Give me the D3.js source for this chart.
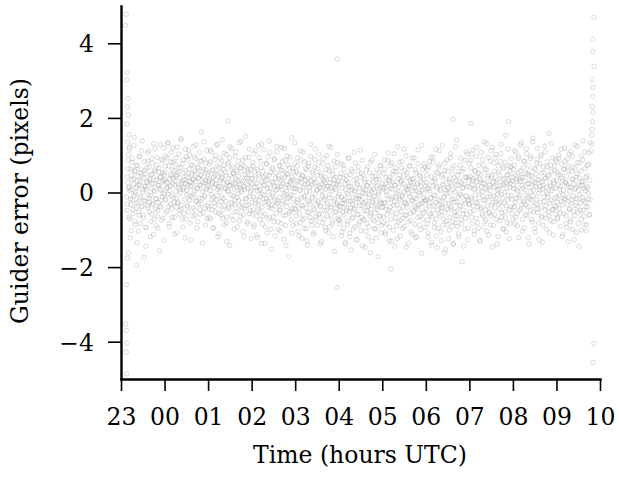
<!DOCTYPE html>
<html>
<head>
<meta charset="utf-8">
<script src="https://cdn.jsdelivr.net/npm/d3@7"></script>
<style>
body { margin: 0; background: #fff; }
svg text { font-family: "DejaVu Serif", serif; fill: #000; }
</style>
</head>
<body>
<svg id="chart" width="619" height="481"></svg>
<script>
// hours since 23:00 UTC -> labels
var tickHours = [0, 1, 2, 3, 4, 5, 6, 7, 8, 9, 10, 11];
var tickLabels = ["23", "00", "01", "02", "03", "04", "05", "06", "07", "08", "09", "10"];
var yTicks = [-4, -2, 0, 2, 4];

// guider error (pixels), read hour by hour from the picture (two guide-star passes per hour)
var err23 = [0.42, -0.31, 0.87, 0.12, -0.66, 1.21, 0.05, -0.18, 0.63, -1.02, 0.34, 0.91, -0.45, 0.22, -0.09, 1.48, -0.77, 0.56, 0.01, -0.29, 0.73, -1.35, 0.18, 0.44, -0.52, 0.97, -0.14, 0.29, -0.83, 0.61, 1.12, -0.37, 0.08, -0.61, 0.39, -1.74, 0.83, -0.22, 0.15, 0.51, -0.95, 0.26, 1.05, -0.41, -0.06, 0.68, -0.25, 0.33, -1.18, 0.47, 0.11, -0.58, 0.79, -0.33, 0.24, 1.31, -0.71, 0.02, 0.57, -0.16, -0.89, 0.36, 0.94, -0.48, 0.19, -0.27, 0.65, -1.56, 0.41, 0.07, -0.39, 0.88, -0.12, 0.53, -0.69, 0.31, 1.19, -0.04];
var err23b = [-0.12, -0.48, 0.27, 0.64, 1.02, 0.15, -0.71, -1.21, -0.33, 0.08, 0.46, 0.81, -0.19, -0.57, 0.37, 1.26, 0.59, -0.04, -0.86, -0.42, 0.13, 0.72, 0.31, -0.26, -1.04, -0.61, 0.21, 0.96, 0.53, -0.11, -0.39, 0.44, 1.38, 0.02, -0.68, -0.23, 0.58, 0.17, -0.93, -1.44, 0.09, 0.67, 0.29, -0.35, 0.84, 1.11, -0.16, -0.52, 0.38, -0.08, -0.78, 0.24, 0.92, 0.49, -0.29, -1.13, 0.05, 0.61, 1.17, -0.44, -0.17, 0.33, 0.74, -0.63, -0.96, 0.19, 0.55, 0.11, -0.37, 1.29, 0.42, -0.21, -0.74, 0.28, 0.86, -0.02, -1.28, 0.47];
var err00 = [0.55, -0.21, 0.98, 0.27, -0.49, 0.12, 1.34, -0.05, 0.71, -0.83, 0.36, 0.18, -0.32, 1.07, 0.44, -0.67, 0.23, 0.81, -0.14, 0.59, -1.11, 0.31, 0.02, 0.93, -0.39, 0.48, 1.22, -0.26, 0.14, 0.66, -0.58, 0.39, -0.01, 1.45, -0.44, 0.25, 0.77, -0.93, 0.09, 0.52, 0.34, -0.19, 1.16, -0.71, 0.43, 0.06, -0.35, 0.87, 0.21, -0.52, 0.62, 1.01, -0.09, 0.28, -1.27, 0.46, 0.17, 0.73, -0.41, 0.35, -0.04, 0.95, -0.62, 0.29, 1.28, -0.23, 0.51, 0.11, -0.78, 0.67, 0.38, -0.15, 0.84, -0.46, 0.19, 1.63, -0.31, 0.57, 0.03, -0.55, 0.42, 0.89, -0.12, 0.26, -0.87, 0.61, 0.08, 1.13, -0.36, 0.47];
var err00b = [0.34, 0.71, -0.18, -0.54, 0.12, 0.93, 1.31, 0.26, -0.37, -0.91, 0.05, 0.48, 0.82, -0.09, -0.43, 0.61, 1.19, 0.38, -0.27, -0.66, 0.19, 0.76, 0.44, -0.15, -1.08, -0.29, 0.53, 1.03, 0.22, -0.48, 0.07, 0.67, 1.41, -0.34, -0.71, 0.31, 0.88, 0.13, -0.56, -1.22, 0.24, 0.59, 0.96, -0.06, -0.39, 0.41, 1.14, 0.29, -0.21, -0.82, 0.16, 0.74, 0.51, -0.12, -0.63, 0.36, 1.24, 0.03, -0.47, 0.57, 0.91, -0.24, -0.95, 0.11, 0.68, 0.39, -0.31, 1.07, 0.21, -0.58, 0.46, 0.84, -0.16, -1.35, 0.27, 0.63, 1.36, -0.08, -0.42, 0.32, 0.79, 0.14, -0.69, 0.52];
var err01 = [0.31, -0.44, 0.76, 0.05, -0.71, 1.09, 0.22, -0.17, 0.58, -0.96, 0.41, 0.13, -0.28, 0.88, -0.53, 0.34, 1.27, -0.08, 0.49, -1.19, 0.17, 0.67, -0.34, 0.02, 0.92, -0.61, 0.38, -0.12, 1.41, -0.47, 0.26, 0.73, -0.86, 0.11, 0.55, -0.23, 1.02, -0.66, 0.29, 0.04, -0.39, 0.81, 0.19, -1.42, 0.46, -0.07, 0.63, 1.18, -0.31, 0.24, -0.74, 0.52, 0.09, -0.19, 0.97, -0.51, 0.36, 0.14, -0.92, 0.71, -0.03, 0.43, 1.33, -0.37, 0.21, -0.64, 0.57, 0.07, -0.26, 0.86, -1.05, 0.32, 0.16, -0.43, 0.69, 1.51, -0.15, 0.39, -0.79, 0.12, 0.61, -0.33, 0.94, -0.57, 0.27, 0.01, -1.23, 0.48];
var err01b = [0.18, -0.29, -0.67, 0.36, 0.82, 1.14, -0.05, -0.46, 0.27, 0.61, -0.13, -0.94, -0.38, 0.47, 0.99, 0.22, -0.21, 0.71, 1.29, 0.08, -0.56, -1.11, 0.15, 0.53, 0.33, -0.24, 0.86, 0.41, -0.69, -0.17, 0.62, 1.06, -0.36, 0.11, 0.44, -0.81, -1.31, 0.26, 0.77, 0.04, -0.43, 0.93, 1.22, 0.19, -0.27, -0.62, 0.39, 0.68, -0.09, 0.51, -0.98, -0.33, 0.24, 1.09, 0.57, -0.14, -0.52, 0.31, 0.84, -0.22, -0.76, 0.13, 0.66, 1.37, 0.01, -0.41, 0.28, 0.72, -0.59, -1.19, 0.09, 0.48, 0.94, -0.18, -0.35, 0.55, 0.21, -0.84, 0.37, 1.16, -0.11, -0.49, 0.63, 0.06];
var err02 = [0.23, -0.58, 0.71, -0.12, 1.04, -0.87, 0.36, -0.31, 0.15, -1.14, 0.62, 0.04, -0.49, 1.26, -0.21, 0.43, -0.73, 0.09, 0.84, -1.37, 0.28, -0.05, 0.57, -0.64, 1.15, -0.26, 0.19, -0.93, 0.47, -0.16, 0.76, -1.08, 0.33, 0.02, -0.41, 1.38, -0.67, 0.12, 0.54, -0.35, -1.52, 0.67, -0.09, 0.25, -0.78, 0.91, -0.22, 0.38, 0.06, -0.55, 1.09, -0.29, 0.17, -0.99, 0.45, -0.13, 0.72, -0.46, 0.31, 1.21, -0.83, 0.08, -0.24, 0.59, -1.26, 0.39, -0.03, 0.86, -0.61, 0.21, -0.38, 0.98, -0.15, 0.49, -1.71, 0.13, 0.66, -0.51, 0.27, -0.07, 1.47, -0.44, 0.34, -0.89, 0.55, 0.01, -0.32, 0.79];
var err02b = [-0.27, 0.38, 0.81, -0.46, -0.92, 0.14, 0.57, 1.12, -0.18, -0.63, 0.25, -1.21, -0.34, 0.49, 0.93, 0.06, -0.52, -0.11, 0.67, 1.29, -0.39, -0.84, 0.21, 0.42, -0.07, -1.36, -0.58, 0.33, 0.78, -0.24, 0.11, 0.96, -0.71, -0.29, 0.46, 1.07, -0.14, -0.99, -0.43, 0.29, 0.63, -0.02, -0.66, 0.87, 0.18, -1.17, -0.36, 0.52, 1.24, -0.21, 0.09, -0.79, 0.37, 0.71, -0.48, -1.03, 0.16, 0.59, -0.31, 0.83, 0.24, -0.61, -0.09, 1.18, 0.44, -0.88, -1.42, 0.03, 0.51, -0.26, 0.74, 0.19, -0.55, -0.12, 0.95, 0.31, -0.73, -1.09, 0.41, 0.65, -0.17, 0.12, -0.44, 1.33];
var err03 = [0.18, -0.62, 0.55, -0.27, 0.93, -1.04, 0.29, -0.43, 0.07, -0.81, 1.12, -0.15, 0.38, -1.23, 0.46, -0.36, 0.14, -0.69, 0.82, -0.09, 0.33, -0.97, 0.61, -0.22, -1.41, 0.24, 0.71, -0.54, 0.03, -0.31, 1.29, -0.76, 0.19, -0.12, 0.52, -1.13, 0.37, -0.47, 0.88, -0.04, -0.65, 0.27, 0.06, -0.88, 0.64, -0.26, 1.03, -0.57, 0.13, -0.38, 0.45, -1.32, 0.22, -0.08, 0.76, -0.71, 0.31, -0.19, -0.93, 0.41, 0.09, -0.48, 0.99, -0.33, 0.17, -1.07, 0.58, -0.14, 0.26, -0.62, 1.21, -0.41, 0.04, -0.84, 0.49, -0.24, 0.35, -1.58, 0.12, 0.69, -0.52, 0.23, -0.29, 0.81, -0.11, -0.73];
var err03b = [0.11, -0.46, -0.83, 0.32, 0.71, -0.19, 0.49, -1.16, -0.58, 0.05, 0.86, 0.27, -0.34, -0.72, 0.43, 1.08, -0.12, -0.96, 0.21, 0.64, -0.41, 0.02, -1.29, -0.53, 0.38, 0.79, -0.25, 0.14, -0.67, 0.96, 0.33, -0.88, -0.16, 0.57, -0.44, -1.07, 0.24, 0.68, 1.17, -0.31, -0.74, 0.09, 0.46, -0.21, -0.59, 0.81, 0.18, -1.38, -0.36, 0.52, 0.04, -0.81, 0.37, 0.91, -0.13, -0.49, 0.26, -1.02, 0.61, 0.15, -0.28, -0.64, 0.72, 1.24, -0.07, -0.91, 0.35, -0.39, 0.12, 0.58, -0.76, -1.19, 0.23, 0.84, -0.18, -0.52, 0.41, 0.07, -0.33, 1.02, -0.69, 0.29];
var err04 = [-0.05, -0.74, 0.41, -0.38, 0.77, -1.16, 0.12, -0.52, -0.19, -0.96, 0.63, -0.31, 0.24, -1.38, 0.33, -0.47, -0.02, -0.85, 0.91, -0.23, 0.15, -1.09, 0.48, -0.41, -1.54, 0.07, 0.56, -0.67, -0.13, -0.44, 1.08, -0.92, 0.03, -0.28, 0.37, -1.26, 0.21, -0.59, 0.69, -0.16, -0.79, 0.11, -0.09, -1.02, 0.52, -0.35, 0.86, -0.71, -0.01, -0.49, 0.29, -1.47, 0.06, -0.24, 0.61, -0.83, 0.18, -0.33, -1.19, 0.27, -0.06, -0.62, 0.81, -0.45, 0.02, -1.31, 0.43, -0.27, 0.09, -0.76, 1.02, -0.55, -0.11, -0.98, 0.35, -0.39, 0.19, -1.72, -0.04, 0.54, -0.64, -0.21, 0.72, -0.29, -0.88, 0.14];
var err04b = [-0.36, 0.22, -0.84, -0.47, 0.51, -0.13, -1.06, -0.29, 0.38, 0.74, -0.61, -0.18, -1.34, 0.09, 0.46, -0.41, -0.77, 0.27, -0.05, 0.93, -0.52, -1.19, -0.24, 0.16, 0.62, -0.69, -0.31, -0.98, 0.33, 0.04, -0.44, 0.79, -0.16, -1.27, -0.58, 0.24, 0.56, -0.09, -0.87, -0.35, 0.41, 1.13, -0.21, -0.66, -1.43, 0.12, 0.47, -0.27, -0.74, 0.35, -0.02, -1.04, -0.49, 0.19, 0.68, -0.38, -0.92, -0.14, 0.53, -1.61, -0.57, 0.07, 0.87, -0.23, -0.71, 0.28, -0.11, -0.97, 0.43, -0.33, -1.22, 0.15, 0.61, -0.46, -0.81, 0.02, 0.36, -0.63, -0.26, 0.73, -1.08, -0.40];
var err05 = [0.09, -0.66, 0.52, -0.29, 0.88, -1.07, 0.24, -0.45, 0.02, -0.84, 1.06, -0.18, 0.34, -1.29, 0.41, -0.38, 0.11, -0.72, 0.79, -0.12, 0.28, -1.01, 0.57, -0.25, -1.44, 0.19, 0.66, -0.57, -0.03, -0.34, 1.23, -0.79, 0.15, -0.16, 0.47, -1.17, 0.32, -0.51, 0.83, -0.07, -0.69, 0.23, 0.01, -0.91, 0.59, -0.28, 0.98, -0.61, 0.08, -0.41, 0.39, -1.36, 0.17, -0.11, 0.71, -0.75, 0.26, -0.22, -1.12, 0.36, 0.04, -0.53, 0.93, -0.37, 0.13, -1.21, 0.53, -0.17, 0.21, -0.67, 1.14, -0.46, -0.01, -0.87, 0.44, -0.31, 0.29, -1.63, 0.06, 0.62, -0.56, -0.14, 0.76, -0.23, -0.94, 0.18];
var err05b = [0.24, -0.39, -0.81, 0.12, 0.63, -0.27, -1.12, 0.41, -0.06, -0.59, 0.86, 0.17, -0.47, -0.93, 0.31, 0.72, -0.18, -1.31, -0.52, 0.08, 0.49, -0.34, 1.04, 0.21, -0.68, -0.11, 0.56, -0.89, -1.24, 0.03, 0.37, -0.43, 0.81, -0.21, -0.74, 0.28, 0.66, -0.12, -0.96, -0.37, 0.44, 1.16, -0.26, -0.61, 0.14, -1.47, -0.31, 0.53, 0.09, -0.79, -0.04, 0.71, 0.33, -0.56, -1.06, 0.19, 0.92, -0.22, -0.49, 0.38, -0.15, -0.86, 0.61, 0.05, -0.41, -1.18, 0.26, 0.77, -0.33, -0.07, 0.47, -0.64, -0.99, 0.16, 1.27, -0.28, -0.71, 0.35, 0.01, -0.53, 0.68, -0.19];
var err06 = [-0.21, 0.47, -0.83, 0.12, -1.19, 0.68, -0.36, 0.03, -0.62, 0.95, -0.14, -1.33, 0.29, -0.48, 0.81, -0.07, -0.94, 0.38, -0.27, 1.16, -0.71, 0.17, -1.48, 0.52, -0.19, -0.56, 0.74, -0.33, 0.08, -1.05, 0.43, -0.42, 1.27, -0.88, 0.21, -0.11, -1.62, 0.59, -0.29, 0.06, -0.77, 0.87, -0.45, 0.14, -1.24, 0.36, -0.02, -0.66, 1.04, -0.38, 0.24, -0.91, 0.49, -0.17, -1.39, 0.71, -0.52, 0.02, -0.81, 0.33, 1.41, -0.25, -0.63, 0.19, -1.11, 0.57, -0.35, -0.04, 0.92, -0.73, 0.27, -1.86, 0.11, -0.47, 0.64, -0.22, -0.98, 0.41, -0.09, 1.09, -0.58, 0.16, -1.27, 0.39, -0.31, 0.78];
var err06b = [-0.43, 0.26, 0.61, -0.74, -1.08, 0.09, -0.29, 0.83, -0.57, -0.16, 0.42, -1.41, -0.66, 0.17, 0.95, -0.34, -0.82, 0.31, -0.08, -1.17, 0.54, 0.13, -0.47, -0.96, 0.68, 1.12, -0.23, -0.61, 0.04, -1.29, -0.39, 0.48, 0.21, -0.72, -0.14, 0.79, -0.53, -1.53, 0.36, -0.02, -0.86, 0.57, 0.11, -0.31, -1.01, 0.27, 0.93, -0.44, -0.19, 0.65, -0.78, -1.36, 0.08, 0.39, -0.26, -0.63, 1.23, 0.19, -0.49, -0.91, 0.46, -0.12, -1.19, 0.31, 0.73, -0.37, -0.07, -0.84, 0.56, 0.14, -0.58, -1.44, 0.22, 0.86, -0.29, -0.69, 0.41, -0.11, 1.03, -0.96, -0.21, 0.33];
var err07 = [0.14, -0.52, 0.66, -0.19, 1.03, -0.84, 0.31, -0.36, 0.08, -1.12, 0.57, -0.07, 0.42, -0.69, 1.21, -0.28, 0.19, -0.95, 0.73, -0.14, 0.36, -1.31, 0.49, -0.41, 0.02, 0.88, -0.63, 0.25, -0.21, 1.36, -0.78, 0.11, -0.47, 0.61, -1.04, 0.39, -0.12, 0.94, -0.56, 0.22, 0.05, -0.87, 1.12, -0.33, 0.45, -1.46, 0.28, -0.09, 0.79, -0.59, 0.17, -0.24, 1.02, -0.72, 0.34, -0.04, -1.18, 0.54, 0.09, -0.44, 0.83, -0.27, 1.29, -0.66, 0.21, -0.15, 0.68, -0.98, 0.37, 0.01, -0.52, 1.53, -0.35, 0.26, -0.81, 0.47, -0.08, 0.72, -1.24, 0.13, 0.58, -0.39, 0.91, -0.18, 0.32, -0.71];
var err07b = [-0.32, 0.43, 0.86, -0.14, -0.67, 0.21, 1.14, 0.37, -0.49, -1.03, 0.11, 0.59, -0.26, 0.97, 0.28, -0.81, -0.38, 0.52, 0.03, -1.27, -0.44, 0.33, 1.08, 0.16, -0.58, -0.09, 0.74, -0.93, 0.24, 0.62, -0.21, -0.73, 1.31, 0.07, -0.36, 0.46, -1.14, -0.52, 0.19, 0.84, -0.11, -0.63, 0.39, 1.21, -0.27, -0.88, 0.14, 0.57, -0.41, 0.93, 0.29, -0.17, -1.39, 0.06, 0.71, -0.31, 0.48, -0.76, 0.18, 1.04, -0.05, -0.54, 0.36, -0.97, 0.64, 0.22, -0.29, 0.81, -0.68, -1.06, 0.12, 0.47, -0.19, 1.17, 0.31, -0.46, -0.84, 0.25, 0.69, -0.08, -0.57, 0.41];
var err08 = [0.62, 0.11, -0.38, -0.84, 0.47, 1.08, -0.15, 0.29, -0.56, 0.03, 0.91, -1.21, 0.36, -0.07, 0.58, -0.44, 1.33, 0.19, -0.72, 0.41, -0.26, 0.84, -0.95, 0.07, 0.52, -0.33, 1.17, -0.61, 0.24, -0.12, 0.73, -1.39, 0.45, 0.14, -0.49, 0.97, -0.21, 0.31, -0.79, 1.46, 0.06, -0.36, 0.66, -1.06, 0.22, 0.49, -0.18, 0.89, -0.54, 0.35, -0.02, -1.27, 0.77, 0.16, -0.41, 1.02, -0.67, 0.28, 0.09, -0.88, 0.54, -0.24, 1.24, -0.47, 0.38, 0.01, -0.99, 0.69, -0.13, 0.43, -0.63, 1.58, -0.29, 0.18, -0.76, 0.57, 0.05, -0.46, 0.93, -1.14, 0.26, 0.71, -0.35, 0.12, -0.58, 0.82];
var err08b = [0.19, -0.41, 0.74, 1.12, -0.27, -0.66, 0.36, 0.08, -0.89, 0.53, 0.96, -0.14, -0.48, 0.29, 1.27, 0.41, -0.33, -1.04, 0.12, 0.67, -0.22, 0.84, 0.31, -0.59, -0.07, 1.04, 0.49, -0.38, -1.21, 0.23, 0.58, -0.17, 0.91, 0.02, -0.72, 0.44, 1.36, -0.09, -0.53, 0.27, -0.96, 0.62, 0.16, -0.31, 0.79, 1.18, -0.44, -0.82, 0.34, 0.07, -0.26, 0.97, 0.52, -0.63, -1.33, 0.21, 0.69, -0.12, 0.39, 1.09, -0.36, -0.69, 0.14, 0.83, -0.04, -0.51, 0.47, -1.08, 0.26, 0.73, -0.21, 1.31, 0.11, -0.46, -0.78, 0.32, 0.59, -0.15, 0.88, -0.39];
var err09 = [-0.12, 0.54, -0.67, 0.21, 1.01, -0.43, 0.08, -0.91, 0.47, -0.24, 0.76, -1.18, 0.31, -0.05, 0.62, -0.57, 1.19, -0.16, 0.27, -0.83, 0.44, -0.31, 0.89, -1.32, 0.15, 0.58, -0.46, 0.03, -0.74, 1.11, -0.21, 0.36, -0.99, 0.69, -0.09, 0.23, -0.62, 1.28, -0.35, 0.12, -1.07, 0.51, -0.18, 0.81, -0.53, 0.06, -1.44, 0.39, 0.19, -0.28, 0.97, -0.71, 0.29, -0.14, 1.39, -0.48, 0.11, -0.86, 0.64, -0.26, 0.41, -1.03, 0.17, 0.73, -0.39, -0.02, 1.07, -0.61, 0.33, -0.19];
var err09b = [0.33, -0.26, -0.71, 0.48, 0.92, -0.08, -0.55, 0.17, 1.16, 0.39, -0.34, -1.12, 0.06, 0.63, -0.19, 0.84, 0.27, -0.62, -0.94, 0.21, 0.71, -0.13, 1.03, -0.43, -0.79, 0.14, 0.56, -0.28, 0.97, 0.35, -0.51, -1.26, 0.09, 0.66, -0.16, 0.42, 1.24, -0.37, -0.83, 0.24, 0.79, -0.06, -0.48, 0.58, -1.01, 0.19, 0.88, -0.22, -0.64, 0.31, 1.09, 0.04, -0.39, -0.87, 0.46, 0.12, -0.18, 0.75, -0.59, 1.34];

// [hours since 23:00, error] for the acquisition spikes and stray points
var startBurst = [[0.12, 4.78], [0.10, 4.48], [0.14, 3.22], [0.13, 3.02], [0.16, 2.52], [0.15, 2.30], [0.17, 2.08], [0.14, 1.83], [0.18, 1.55], [0.16, 1.35], [0.19, 1.16], [0.17, -1.62], [0.15, -1.76], [0.13, -2.47], [0.11, -3.52], [0.12, -3.70], [0.14, -4.04], [0.12, -4.28], [0.13, -4.86]];
var endBurst = [[10.86, 4.70], [10.83, 4.10], [10.83, 3.78], [10.86, 3.38], [10.82, 3.03], [10.84, 2.82], [10.83, 2.58], [10.82, 2.31], [10.84, 2.15], [10.83, 1.90], [10.82, 1.69], [10.81, 1.53], [10.82, 1.30], [10.80, 1.12], [10.86, -4.05], [10.84, -4.56]];
var outliers = [[4.97, 3.58], [4.96, -2.55], [0.35, -1.95], [7.62, 1.96], [8.04, 1.85], [8.90, 1.90], [6.20, -2.05], [2.45, 1.92]];

// [start, end] of each hour's samples, hours since 23:00 (guiding ran 23:08-09:47)
var blockSpans = [[0.13, 1], [1, 2], [2, 3], [3, 4], [4, 5], [5, 6], [6, 7], [7, 8], [8, 9], [9, 10], [10, 10.78]];
var errBlocks = [[err23, err23b], [err00, err00b], [err01, err01b], [err02, err02b], [err03, err03b], [err04, err04b],
                 [err05, err05b], [err06, err06b], [err07, err07b], [err08, err08b], [err09, err09b]];

var samples = [];
errBlocks.forEach(function (pair, b) {
    var span = blockSpans[b];
    pair.forEach(function (block, k) {
        var step = (span[1] - span[0]) / block.length;
        block.forEach(function (e, i) {
            samples.push({ t: span[0] + (i + (k ? 0.2 : 0.7)) * step, e: e });
        });
    });
});
startBurst.concat(endBurst, outliers).forEach(function (d) {
    samples.push({ t: d[0], e: d[1] });
});

var svg = d3.select("#chart");
var plotLeft = 121, plotRight = 600, plotTop = 6, plotBottom = 379;

var x = d3.scaleLinear().domain([0, 11]).range([plotLeft, plotRight]);
var y = d3.scaleLinear().domain([-5, 5]).range([plotBottom, plotTop]);

// points
svg.append("g")
    .selectAll("circle")
    .data(samples)
    .enter()
    .append("circle")
    .attr("cx", function (d) { return x(d.t); })
    .attr("cy", function (d) { return y(d.e); })
    .attr("r", 2.2)
    .attr("fill", "none")
    .attr("stroke", "#8a8a8a")
    .attr("stroke-opacity", 0.5)
    .attr("stroke-width", 0.6);

// x axis
var xAxis = d3.axisBottom(x)
    .tickValues(tickHours)
    .tickFormat(function (d, i) { return tickLabels[i]; })
    .tickSizeInner(12)
    .tickSizeOuter(0)
    .tickPadding(17);

var gx = svg.append("g")
    .attr("transform", "translate(0," + plotBottom + ")")
    .call(xAxis);

// y axis
var yAxis = d3.axisLeft(y)
    .tickValues(yTicks)
    .tickFormat(function (d) { return d < 0 ? "\u2212" + Math.abs(d) : String(d); })
    .tickSizeInner(13)
    .tickSizeOuter(0)
    .tickPadding(14);

var gy = svg.append("g")
    .attr("transform", "translate(" + plotLeft + ",0)")
    .call(yAxis);

[gx, gy].forEach(function (g) {
    g.select(".domain").attr("stroke", "#000").attr("stroke-width", 2.4).attr("stroke-linecap", "square");
    g.selectAll(".tick line").attr("stroke", "#000").attr("stroke-width", 1.6);
    g.selectAll(".tick text")
        .attr("fill", "#000")
        .style("font-family", "'DejaVu Serif', serif")
        .style("font-size", "23.5px");
});
gy.selectAll(".tick text").attr("dy", "0.36em");

// axis titles
svg.append("text")
    .attr("x", 360)
    .attr("y", 463)
    .attr("text-anchor", "middle")
    .style("font-size", "23.5px")
    .text("Time (hours UTC)");

svg.append("text")
    .attr("transform", "translate(28,201) rotate(-90)")
    .attr("text-anchor", "middle")
    .style("font-size", "23.5px")
    .text("Guider error (pixels)");
</script>
</body>
</html>
